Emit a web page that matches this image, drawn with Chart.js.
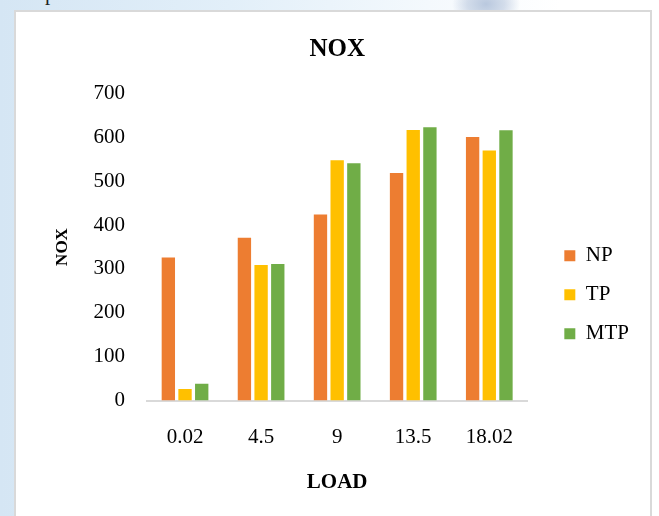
<!DOCTYPE html>
<html>
<head>
<meta charset="utf-8">
<title>NOX</title>
<script src="https://cdn.jsdelivr.net/npm/chart.js@4/dist/chart.umd.min.js"></script>
<style>
  html, body { margin: 0; padding: 0; }
  body {
    width: 659px; height: 516px; overflow: hidden; position: relative;
    background: #ffffff;
    font-family: 'Liberation Serif', 'Times New Roman', serif;
  }
  #backdrop {
    position: absolute; left: 0; top: 0; width: 659px; height: 516px;
    background:
      radial-gradient(ellipse 34px 24px at 486px 4px, #b9c8de 0%, rgba(185,200,222,0.6) 55%, rgba(185,200,222,0) 100%),
      linear-gradient(90deg, #d5e6f4 0%, #e2eff9 35%, #f4f9fd 65%, #ffffff 85%);
  }
  #lead {
    position: absolute; left: 45px; top: -17px;
    font: 21px/21px 'Liberation Serif', 'Times New Roman', serif; color: #222;
  }
  #frame {
    position: absolute; left: 14px; top: 10px; width: 638px; height: 520px;
    box-sizing: border-box; border: 2px solid #d9d9d9; background: #ffffff;
  }
  #chart { position: absolute; left: 0; top: 0; }
</style>
</head>
<body>
<div id="backdrop"></div>
<div id="lead">p</div>
<div id="frame"></div>
<canvas id="chart" width="659" height="516"></canvas>
<script>
// Engine load (x) and NOX emissions for each fuel
const loads = ['0.02', '4.5', '9', '13.5', '18.02'];
const npValues = [326, 371, 424, 519, 601];
const tpValues = [26, 309, 548, 617, 570];
const mtpValues = [38, 311, 541, 623, 616];
const seriesNames = ['NP', 'TP', 'MTP'];
const yMin = 0;
const yMax = 700;
const yStep = 100;

const serif = "'Liberation Serif', 'Times New Roman', serif";
const ink = '#000000';

new Chart(document.getElementById('chart'), {
  type: 'bar',
  data: {
    labels: loads,
    datasets: [
      { label: seriesNames[0], data: npValues, backgroundColor: '#ED7D31' },
      { label: seriesNames[1], data: tpValues, backgroundColor: '#FFC000' },
      { label: seriesNames[2], data: mtpValues, backgroundColor: '#70AD47' }
    ]
  },
  options: {
    responsive: false,
    animation: false,
    categoryPercentage: 0.658,
    barPercentage: 0.8,
    layout: { padding: { left: 0, right: 20, top: 0, bottom: 0 } },
    plugins: {
      title: {
        display: true, text: 'NOX', color: ink, fullSize: false,
        font: { family: serif, size: 25, weight: 'bold' },
        padding: { top: 35, bottom: 28.5 }
      },
      legend: {
        position: 'right', align: 'center',
        title: { display: true, text: '', font: { family: serif, size: 12 }, padding: { top: 59, bottom: 0 } },
        labels: {
          boxWidth: 11, boxHeight: 11, padding: 18, color: ink,
          font: { family: serif, size: 21 }
        }
      },
      tooltip: { enabled: false }
    },
    scales: {
      x: {
        grid: { display: false, drawTicks: false },
        border: { display: true, color: '#d9d9d9', width: 2 },
        ticks: { color: ink, font: { family: serif, size: 21 }, padding: 24 },
        title: {
          display: true, text: 'LOAD', color: ink,
          font: { family: serif, size: 21, weight: 'bold' },
          padding: { top: -3.3, bottom: 20.4 }
        }
      },
      y: {
        min: yMin, max: yMax,
        grid: { display: false, drawTicks: false },
        border: { display: false },
        ticks: { stepSize: yStep, color: ink, font: { family: serif, size: 21 }, padding: 22 },
        title: {
          display: true, text: 'NOX', color: ink,
          font: { family: serif, size: 17, weight: 'bold' },
          padding: { top: 52, bottom: 0 }
        },
        afterFit(scale) { scale.width = 147; }
      },
      // empty spacer between the plot and the legend
      gap: {
        position: 'right', display: true,
        grid: { display: false, drawTicks: false },
        border: { display: false },
        ticks: { display: false },
        afterFit(scale) { scale.width = 19; }
      }
    }
  }
});
</script>
</body>
</html>
